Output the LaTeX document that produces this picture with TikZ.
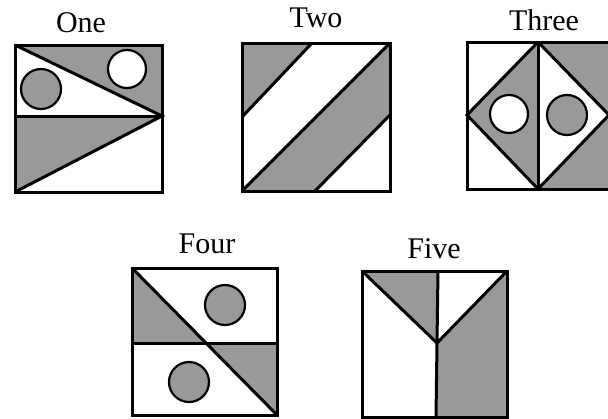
\documentclass[tikz,border=0pt]{standalone}
\usepackage{fontspec}
\setmainfont{Liberation Serif}
\definecolor{sh}{RGB}{153,153,153}
\begin{document}
\begin{tikzpicture}[x=1pt,y=-1pt, line join=miter,
 ln/.style={line width=3pt},
 lbl/.style={font=\fontsize{30}{32}\selectfont, anchor=base, inner sep=0pt},
 circ/.style={draw, line width=2.2pt}]
\useasboundingbox (0,0) rectangle (608,418);
\clip (0,0) rectangle (608,418);
% labels
\node[lbl] (lone) at (81,32) {One};
\node[lbl] (ltwo) at (316,27) {Two};
\node[lbl] (lthree) at (544,30) {Three};
\node[lbl] (lfour) at (207,253) {Four};
\node[lbl] (lfive) at (434,258) {Five};
% One
\fill[sh] (15,45) -- (162,45) -- (162,116) -- cycle;
\fill[sh] (15,116) -- (162,116) -- (15,192) -- cycle;
\draw[ln] (15,45) rectangle (162,192);
\draw[ln] (15,116) -- (162,116);
\draw[ln] (15,45) -- (162,116) -- (15,192);
\draw[circ, fill=sh] (41,89) circle (20pt);
\draw[circ, fill=white] (127,69) circle (19pt);
% Two
\fill[sh] (242,43) -- (312,43) -- (242,117) -- cycle;
\fill[sh] (242,191) -- (390,43) -- (390,115) -- (315,191) -- cycle;
\draw[ln] (242,43) rectangle (390,191);
\draw[ln] (312,43) -- (242,117);
\draw[ln] (242,191) -- (390,43);
\draw[ln] (390,115) -- (315,191);
% Three
\fill[sh] (467,115) -- (538,42) -- (538,189) -- cycle;
\fill[sh] (538,42) -- (609,42) -- (609,115) -- cycle;
\fill[sh] (538,189) -- (609,115) -- (609,189) -- cycle;
\draw[ln] (467,42) rectangle (609,189);
\draw[ln] (538,42) -- (538,189);
\draw[ln] (538,42) -- (467,115) -- (538,189);
\draw[ln] (538,42) -- (609,115) -- (538,189);
\draw[circ, fill=white] (509,114) circle (19pt);
\draw[circ, fill=sh] (567,115) circle (20pt);
% Four
\fill[sh] (132,268) -- (132,343) -- (204.5,343) -- cycle;
\fill[sh] (204.5,343) -- (277,343) -- (277,415) -- cycle;
\draw[ln] (132,268) rectangle (277,415);
\draw[ln] (132,343) -- (277,343);
\draw[ln] (132,268) -- (277,415);
\draw[circ, fill=sh] (225,305) circle (20pt);
\draw[circ, fill=sh] (189,382) circle (20pt);
% Five
\fill[sh] (362,271) -- (438,271) -- (437,343) -- cycle;
\fill[sh] (437,343) -- (507,271) -- (507,417) -- (436,417) -- cycle;
\draw[ln] (362,271) rectangle (507,417);
\draw[ln] (438,271) -- (437,343) -- (436,417);
\draw[ln] (362,271) -- (437,343) -- (507,271);
\end{tikzpicture}
\end{document}
